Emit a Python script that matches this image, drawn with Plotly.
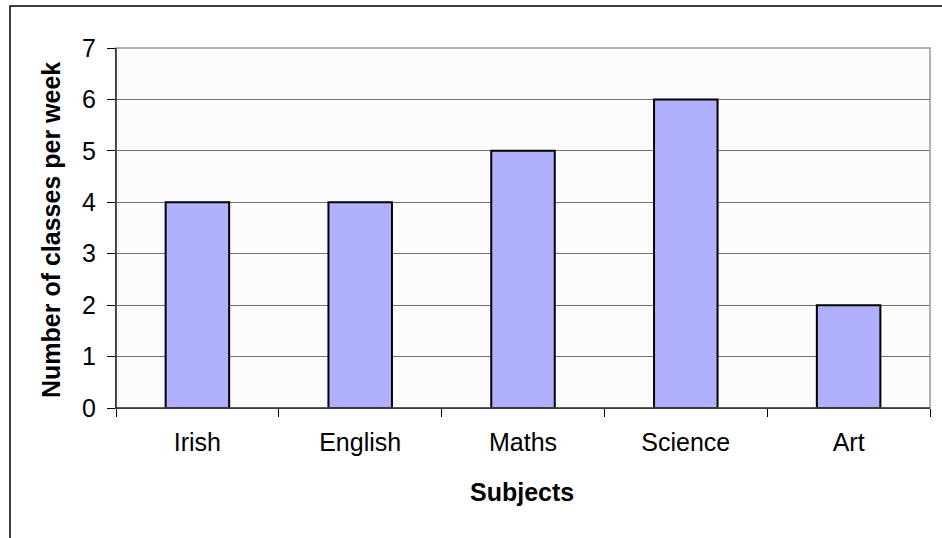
import plotly.graph_objects as go

subjects = ["Irish", "English", "Maths", "Science", "Art"]
classes = [4, 4, 5, 6, 2]
y_ticks = [0, 1, 2, 3, 4, 5, 6, 7]

W, H = 942, 538
L, R, T, B = 116, 930, 48, 408

fig = go.Figure()
fig.add_trace(go.Bar(
    x=subjects, y=classes,
    marker=dict(color="#B0B0FF", line=dict(color="#000000", width=2)),
    width=0.39,
))

pw = R - L
ph = B - T

def px_x(v):
    return (v - L) / pw

def px_y(v):
    return (B - v) / ph

fig.update_layout(
    width=W, height=H,
    margin=dict(l=L, r=W - R, t=T, b=H - B),
    paper_bgcolor="white",
    plot_bgcolor="#FCFCFC",
    showlegend=False,
    font=dict(family="Liberation Sans, Arial, sans-serif", size=25, color="#000"),
    xaxis=dict(
        showline=True, linecolor="#000", linewidth=1,
        ticks="outside", tickson="boundaries", ticklen=8, tickcolor="#000",
        tickfont=dict(size=25), showgrid=False, tickangle=0,
        ticklabelstandoff=12,
    ),
    yaxis=dict(
        range=[0, 7], tickvals=y_ticks, showline=True, linecolor="#000", linewidth=1,
        ticks="outside", ticklen=8, tickcolor="#000",
        showgrid=True, gridcolor="#707070", gridwidth=1,
        tickfont=dict(size=25), zeroline=False,
        ticklabelstandoff=6,
    ),
    shapes=[
        dict(type="rect", xref="paper", yref="paper", x0=0, x1=1, y0=0, y1=1,
             line=dict(color="#999", width=1.5), layer="above"),
        dict(type="line", xref="paper", yref="paper", x0=0, x1=1, y0=0, y1=0,
             line=dict(color="#000", width=1), layer="above"),
        dict(type="line", xref="paper", yref="paper", x0=0, x1=0, y0=0, y1=1,
             line=dict(color="#000", width=1), layer="above"),
        dict(type="rect", xref="paper", yref="paper",
             x0=px_x(10), x1=px_x(960), y0=px_y(560), y1=px_y(6),
             line=dict(color="#000", width=1.5), layer="above"),
    ],
    annotations=[
        dict(text="<b>Subjects</b>", xref="paper", yref="paper",
             x=px_x(522), y=px_y(492), showarrow=False,
             font=dict(size=25), xanchor="center", yanchor="middle"),
        dict(text="<b>Number of classes per week</b>", xref="paper", yref="paper",
             x=px_x(51), y=px_y(230), showarrow=False, textangle=-90,
             font=dict(size=25), xanchor="center", yanchor="middle"),
    ],
)
fig.write_html("out.html", config={"displayModeBar": False},
               post_script="document.body.style.margin='0';")
